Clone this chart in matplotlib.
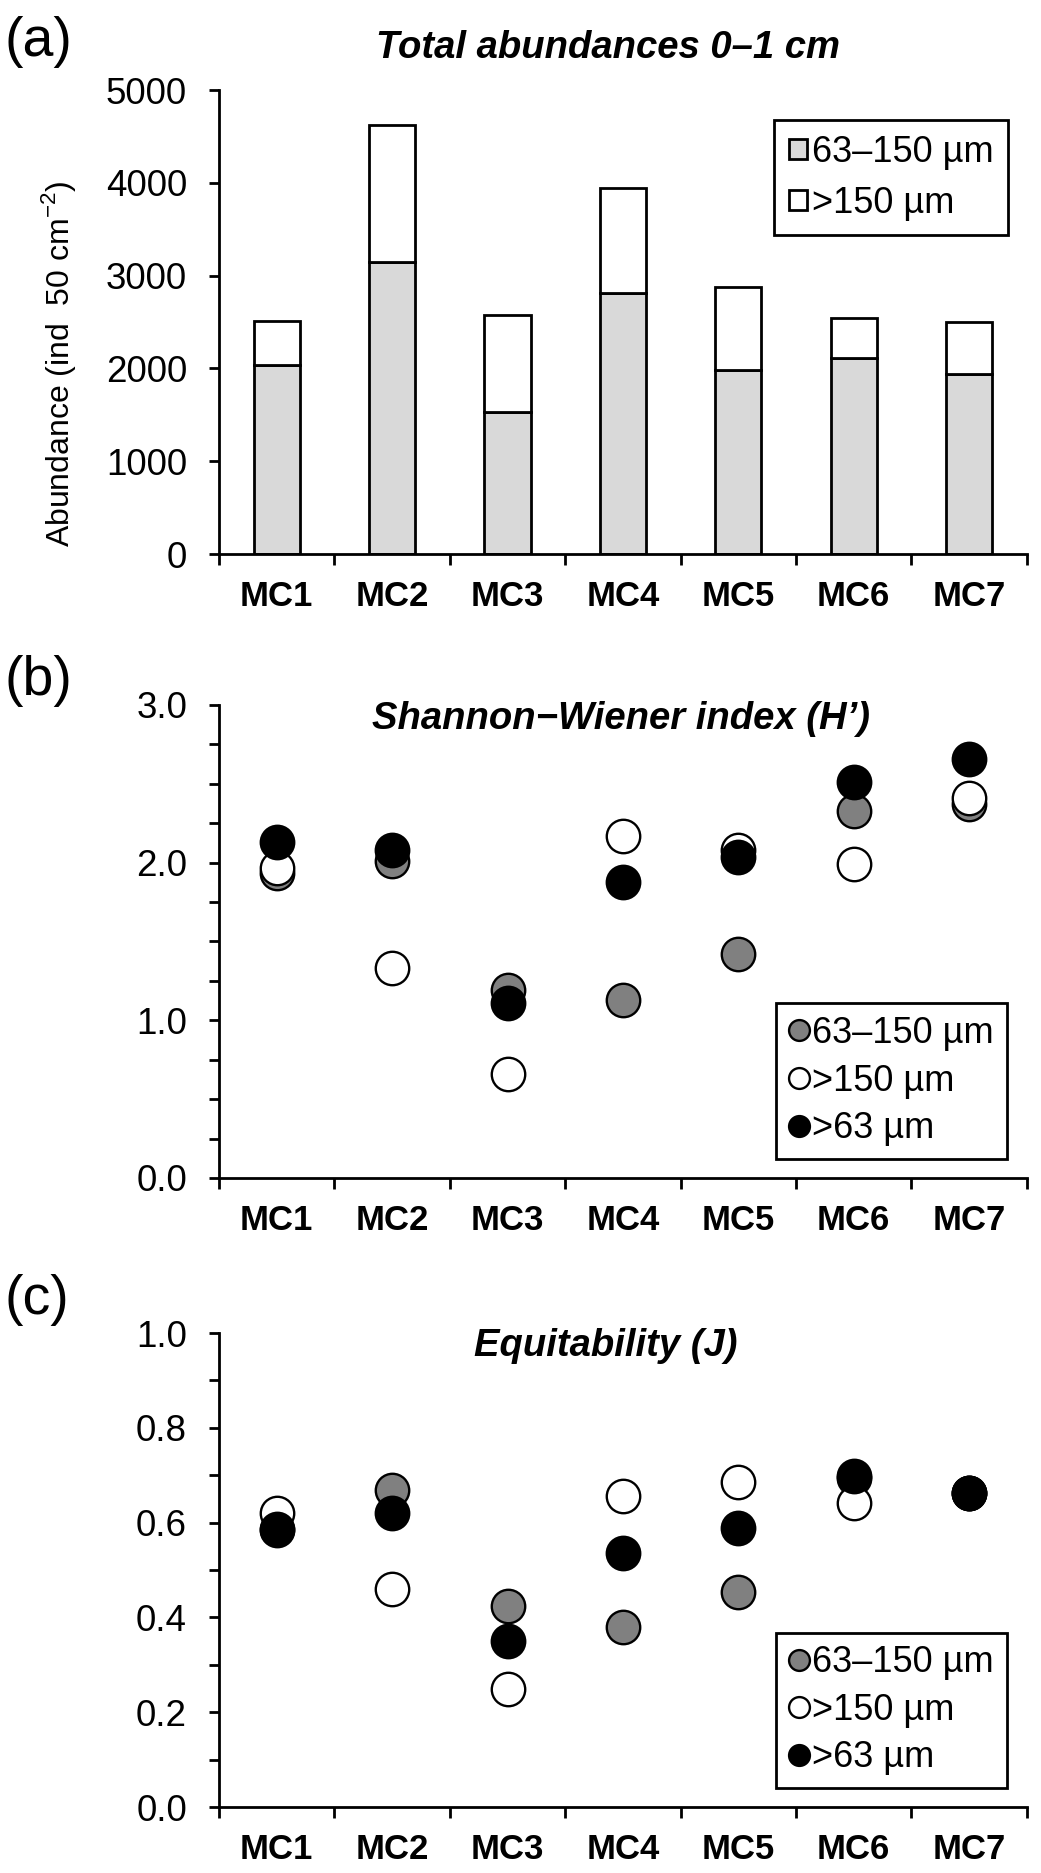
import numpy as np
import matplotlib
matplotlib.use("Agg")
import matplotlib.pyplot as plt
from matplotlib.lines import Line2D

# data
stations = ["MC1", "MC2", "MC3", "MC4", "MC5", "MC6", "MC7"]
abund_small = [2040, 3145, 1535, 2815, 1980, 2110, 1940]   # 63-150 um
abund_total = [2515, 4625, 2580, 3950, 2877, 2540, 2500]

h_small = [1.935, 2.01, 1.19, 1.13, 1.42, 2.33, 2.37]
h_large = [1.967, 1.33, 0.66, 2.17, 2.08, 1.99, 2.41]
h_all = [2.128, 2.08, 1.11, 1.88, 2.035, 2.51, 2.66]

j_small = [0.585, 0.668, 0.425, 0.379, 0.454, 0.695, 0.663]
j_large = [0.621, 0.461, 0.25, 0.657, 0.685, 0.642, 0.663]
j_all = [0.586, 0.621, 0.351, 0.537, 0.589, 0.698, 0.663]

size_labels = ["63\u2013150 \u00b5m", ">150 \u00b5m", ">63 \u00b5m"]

plt.rcParams["font.family"] = ["Liberation Sans", "DejaVu Sans"]
plt.rcParams["mathtext.fontset"] = "custom"
plt.rcParams["mathtext.rm"] = "Liberation Sans"

LW = 2.0
fig = plt.figure(figsize=(10.41, 18.73), dpi=100)
left, width = 0.2104, 0.776
ax_a = fig.add_axes([left, 0.7042, width, 0.2477])
ax_b = fig.add_axes([left, 0.3711, width, 0.2525])
ax_c = fig.add_axes([left, 0.0352, width, 0.2531])

x = np.arange(len(stations)) + 0.5


def style_axis(ax):
    for s in ["top", "right"]:
        ax.spines[s].set_visible(False)
    for s in ["left", "bottom"]:
        ax.spines[s].set_linewidth(LW)
    ax.set_xlim(0, len(stations))
    ax.set_xticks(np.arange(len(stations) + 1))
    ax.set_xticklabels([])
    ax.set_xticks(x, minor=True)
    ax.set_xticklabels(stations, minor=True, fontsize=25, fontweight="bold")
    ax.tick_params(axis="x", which="major", direction="out", length=8, width=LW)
    ax.tick_params(axis="x", which="minor", length=0, pad=19)
    ax.tick_params(axis="y", which="both", direction="out", width=LW, labelsize=26.5,
                   pad=16, length=7)


# (a) stacked bars
style_axis(ax_a)
top_part = np.array(abund_total) - np.array(abund_small)
ax_a.bar(x, abund_small, width=0.4, color="#d9d9d9", edgecolor="black", linewidth=LW,
         label=size_labels[0])
ax_a.bar(x, top_part, width=0.4, bottom=abund_small, color="white", edgecolor="black",
         linewidth=LW, label=size_labels[1])
ax_a.set_ylim(0, 5000)
ax_a.set_yticks(np.arange(0, 5001, 1000))
ax_a.set_ylabel("Abundance (ind  50 cm$^{-2}$)", fontsize=23)
ax_a.yaxis.set_label_coords(-0.175, 0.41)
ax_a.text(0.481, 1.07, "Total abundances 0\u20131 cm", transform=ax_a.transAxes,
          ha="center", va="baseline", fontsize=27.5, fontweight="bold", style="italic")
leg = ax_a.legend(loc="upper right", bbox_to_anchor=(0.977, 0.935), borderaxespad=0,
                  fontsize=26, handlelength=0.5, handleheight=0.5, handletextpad=0.15,
                  labelspacing=0.45, fancybox=False, edgecolor="black", framealpha=1,
                  borderpad=0.4)
leg.get_frame().set_linewidth(LW)


def dots(ax, small, large, allsz):
    kw = dict(s=580, edgecolors="black", linewidths=1.7, zorder=3, clip_on=False)
    ax.scatter(x, small, c="#808080", **kw)
    ax.scatter(x, large, c="white", **kw)
    ax.scatter(x, allsz, c="black", **kw)
    handles = [Line2D([], [], ls="none", marker="o", markersize=15, markerfacecolor=fc,
                      markeredgecolor="black", markeredgewidth=1.7)
               for fc in ["#808080", "white", "black"]]
    lg = ax.legend(handles, size_labels, loc="lower right", bbox_to_anchor=(0.975, 0.04),
                   borderaxespad=0, fontsize=26, handlelength=0.55, handletextpad=0.1,
                   labelspacing=0.35, fancybox=False, edgecolor="black", framealpha=1,
                   borderpad=0.35)
    lg.get_frame().set_linewidth(LW)


# (b) Shannon-Wiener
style_axis(ax_b)
dots(ax_b, h_small, h_large, h_all)
ax_b.set_ylim(0, 3)
ax_b.set_yticks(np.arange(0, 3.01, 1.0))
ax_b.set_yticks(np.arange(0, 3.01, 0.25), minor=True)
ax_b.set_yticklabels(["%.1f" % v for v in np.arange(0, 3.01, 1.0)])
ax_b.text(0.497, 0.95, "Shannon\u2212Wiener index (H\u2019)", transform=ax_b.transAxes,
          ha="center", va="baseline", fontsize=27.5, fontweight="bold", style="italic")

# (c) Equitability
style_axis(ax_c)
dots(ax_c, j_small, j_large, j_all)
ax_c.set_ylim(0, 1)
ax_c.set_yticks(np.arange(0, 1.01, 0.2))
ax_c.set_yticks(np.arange(0, 1.01, 0.1), minor=True)
ax_c.set_yticklabels(["%.1f" % v for v in np.arange(0, 1.01, 0.2)])
ax_c.text(0.479, 0.952, "Equitability (J)", transform=ax_c.transAxes,
          ha="center", va="baseline", fontsize=27.5, fontweight="bold", style="italic")

for lab, yy in [("(a)", 0.9776), ("(b)", 0.6364), ("(c)", 0.306)]:
    fig.text(0.004, yy, lab, fontsize=40, ha="left", va="center")

fig.savefig("out.png", dpi=100)
